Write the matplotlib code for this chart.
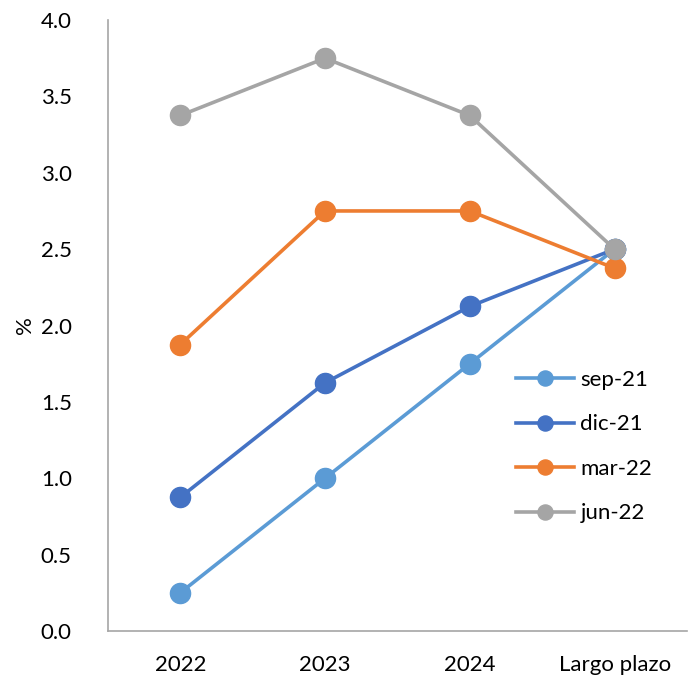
import matplotlib.pyplot as plt

plt.rcParams['font.family'] = ['Lato', 'DejaVu Sans']

# Datos
categorias = ['2022', '2023', '2024', 'Largo plazo']
sep_21 = [0.25, 1.0, 1.75, 2.5]
dic_21 = [0.875, 1.625, 2.125, 2.5]
mar_22 = [1.875, 2.75, 2.75, 2.375]
jun_22 = [3.375, 3.75, 3.375, 2.5]

series = [
    ('sep-21', sep_21, '#5B9BD5'),
    ('dic-21', dic_21, '#4472C4'),
    ('mar-22', mar_22, '#ED7D31'),
    ('jun-22', jun_22, '#A5A5A5'),
]

fig = plt.figure(figsize=(6.96, 6.81), dpi=100)
ax = fig.add_axes([0.155, 0.0734, 0.832, 0.8972])

x = range(len(categorias))
for nombre, valores, color in series:
    ax.plot(x, valores, color=color, lw=2.6, marker='o', markersize=14.5,
            markeredgecolor=color, label=nombre)

ax.set_xlim(-0.5, len(categorias) - 0.5)
ax.set_ylim(0, 4.0)
ax.set_yticks([i * 0.5 for i in range(9)])
ax.set_yticklabels([f'{i * 0.5:.1f}' for i in range(9)])
ax.set_xticks(list(x))
ax.set_xticklabels(categorias)
ax.tick_params(axis='both', length=0, labelsize=16, colors='black')
ax.tick_params(axis='y', pad=26)
ax.tick_params(axis='x', pad=17)
ax.set_ylabel('%', fontsize=16)
ax.yaxis.set_label_coords(-0.125, 0.5)

for lado in ['top', 'right']:
    ax.spines[lado].set_visible(False)
for lado in ['left', 'bottom']:
    ax.spines[lado].set_color('#A6A6A6')
    ax.spines[lado].set_linewidth(1.2)

ax.legend(loc='upper left', bbox_to_anchor=(0.67, 0.46), frameon=False,
          fontsize=16, handlelength=2.6, handletextpad=0.3, labelspacing=1.1,
          markerscale=0.75)

fig.savefig('out.png', dpi=100)
